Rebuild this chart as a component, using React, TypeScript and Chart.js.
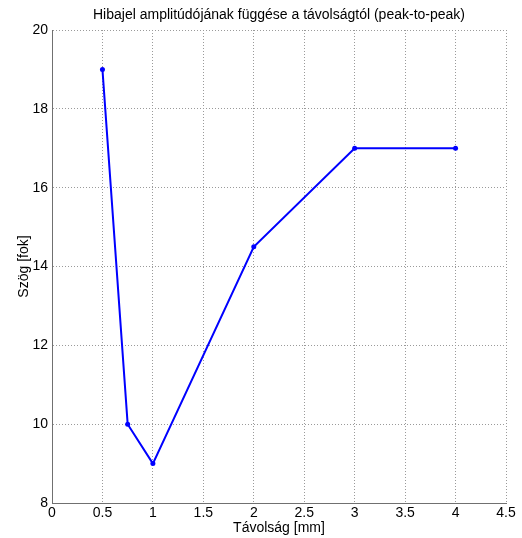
import React, { useEffect, useRef } from "react";
import { Chart, registerables } from "chart.js";

Chart.register(...registerables);

const distances = [0.5, 0.75, 1, 2, 3, 4];
const angles = [19, 10, 9, 14.5, 17, 17];
const titleText = "Hibajel amplitúdójának függése a távolságtól (peak-to-peak)";
const xTitle = "Távolság [mm]";
const yTitle = "Szög [fok]";

const FONT_FAMILY = "'Liberation Sans', Arial, sans-serif";

const centeredTitle = {
  id: "centeredTitle",
  afterDraw(chart: any) {
    const { ctx, chartArea } = chart;
    ctx.save();
    ctx.font = `14px ${FONT_FAMILY}`;
    ctx.fillStyle = "#000";
    ctx.textAlign = "center";
    ctx.textBaseline = "middle";
    ctx.fillText(titleText, (chartArea.left + chartArea.right) / 2, 15);
    ctx.restore();
  },
};

export default function App() {
  const ref = useRef<HTMLCanvasElement>(null);
  useEffect(() => {
    document.body.style.margin = "0";
    const ctx = ref.current!;
    const font = { family: FONT_FAMILY, size: 14 };
    const chart = new Chart(ctx, {
      type: "line",
      data: {
        datasets: [
          {
            data: distances.map((d, i) => ({ x: d, y: angles[i] })),
            borderColor: "#0000ff",
            backgroundColor: "#0000ff",
            borderWidth: 2,
            pointRadius: 2.5,
            pointBorderWidth: 0,
            tension: 0,
          },
        ],
      },
      plugins: [centeredTitle],
      options: {
        animation: false,
        responsive: false,
        layout: { padding: { left: 0, right: 16, top: 30, bottom: 0 } },
        plugins: {
          legend: { display: false },
          tooltip: { enabled: false },
          title: { display: false },
        },
        scales: {
          x: {
            type: "linear",
            min: 0,
            max: 4.5,
            ticks: {
              stepSize: 0.5,
              color: "#000",
              font,
              padding: 2,
              maxRotation: 0,
              callback: (v: any) => String(Number(v)),
            },
            grid: { color: "#9a9a9a", lineWidth: 1, drawTicks: false },
            border: { color: "#707070", width: 1, dash: [1, 2] },
            title: { display: true, text: xTitle, color: "#000", font, padding: { top: 0, bottom: 1 } },
            afterFit: (s: any) => {
              s.height = 35;
            },
          },
          y: {
            type: "linear",
            min: 8,
            max: 20,
            ticks: { stepSize: 2, color: "#000", font, padding: 4 },
            grid: { color: "#9a9a9a", lineWidth: 1, drawTicks: false },
            border: { color: "#707070", width: 1, dash: [1, 2] },
            title: { display: true, text: yTitle, color: "#000", font, padding: { top: 16, bottom: 0 } },
            afterFit: (s: any) => {
              s.width = 52;
            },
          },
        },
      },
    });
    return () => chart.destroy();
  }, []);
  return <canvas ref={ref} width={522} height={538} style={{ display: "block" }} />;
}
